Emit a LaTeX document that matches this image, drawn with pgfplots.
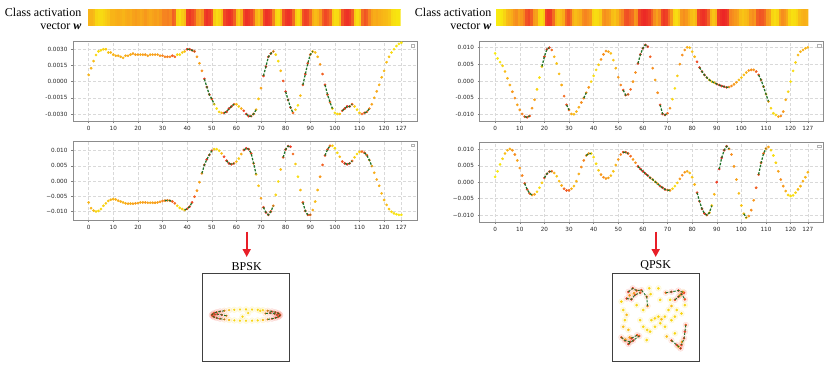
\documentclass[border=0pt]{standalone}
\usepackage{fontspec}
\setmainfont{Liberation Serif}
\newfontfamily\tickfont{DejaVu Sans}
\usepackage{pgfplots}
\usepackage{pgfplotstable}
\pgfplotsset{compat=1.18}
\usetikzlibrary{arrows.meta}
\definecolor{arrowred}{RGB}{232,30,40}
\definecolor{dkgreen}{RGB}{30,115,40}

\pgfplotstableread{
i w gI gQ I Q
0 .35 0 0 0.00062 -0.0071
1 .35 0 0 0.00124 -0.0090
2 .3 0 0 0.0019 -0.0098
3 .15 0 0 0.00247 -0.0101
4 .12 0 0 0.0028 -0.0099
5 .12 0 0 0.0029 -0.0093
6 .15 0 0 0.0030 -0.0082
7 .2 0 0 0.0030 -0.0074
8 .25 0 0 0.0027 -0.0066
9 .35 0 0 0.0027 -0.0062
10 .35 0 0 0.0025 -0.0060
11 .38 0 0 0.0024 -0.0061
12 .4 0 0 0.0024 -0.0065
13 .38 0 0 0.0023 -0.0068
14 .35 0 0 0.0022 -0.0071
15 .4 0 0 0.0024 -0.0074
16 .42 0 0 0.0024 -0.0075
17 .4 0 0 0.0025 -0.0075
18 .45 0 0 0.0026 -0.0075
19 .48 0 0 0.0025 -0.0074
20 .45 0 0 0.0025 -0.0073
21 .42 0 0 0.0025 -0.0071
22 .45 0 0 0.0025 -0.0071
23 .5 0 0 0.0025 -0.0071
24 .45 0 0 0.0024 -0.0072
25 .42 0 0 0.0025 -0.0072
26 .45 0 0 0.0025 -0.0072
27 .48 0 0 0.0025 -0.0072
28 .45 0 0 0.0025 -0.0071
29 .5 0 0 0.0024 -0.0069
30 .6 0 0 0.0024 -0.0066
31 .6 0 1 0.0023 -0.0065
32 .62 0 1 0.0023 -0.0064
33 .58 0 1 0.0023 -0.0065
34 .75 0 1 0.0024 -0.0068
35 .7 0 0 0.0023 -0.0074
36 .15 0 0 0.0025 -0.0082
37 .1 0 0 0.0025 -0.0089
38 .2 0 0 0.0027 -0.0093
39 .3 0 1 0.0028 -0.0096
40 .88 1 1 0.0030 -0.0092
41 .92 1 1 0.0030 -0.0085
42 .85 1 1 0.0029 -0.0071
43 .75 1 0 0.0028 -0.0052
44 .5 0 0 0.0023 -0.0032
45 .45 0 0 0.0017 -0.0004
46 .55 0 1 0.0010 0.0025
47 .9 1 1 0.00025 0.0053
48 .95 1 1 -0.0005 0.0071
49 .9 1 1 -0.0012 0.0086
50 .8 1 1 -0.0016 0.0100
51 .2 1 0 -0.0021 0.0105
52 .1 0 0 -0.0025 0.0105
53 .15 0 0 -0.0028 0.0100
54 .3 0 0 -0.0029 0.0091
55 .85 1 0 -0.0029 0.0080
56 .92 1 1 -0.0028 0.0067
57 .95 1 1 -0.0025 0.0058
58 .9 1 1 -0.0023 0.0055
59 .75 1 1 -0.0021 0.0058
60 .3 0 0 -0.0021 0.0064
61 .2 0 0 -0.0023 0.0074
62 .4 0 0 -0.0025 0.0089
63 .85 0 1 -0.0027 0.0102
64 .95 1 1 -0.0030 0.0108
65 .92 1 1 -0.0032 0.0105
66 .85 1 1 -0.0032 0.0091
67 .7 1 1 -0.0030 0.0058
68 .35 1 1 -0.0026 0.0022
69 .25 0 0 -0.0016 -0.0016
70 .45 0 0 -0.0006 -0.0057
71 .85 1 1 0.00053 -0.0087
72 .95 1 1 0.0014 -0.0104
73 .92 1 1 0.0023 -0.0112
74 .85 1 1 0.0026 -0.0101
75 .6 1 1 0.0028 -0.0082
76 .15 0 0 0.0025 -0.0046
77 .1 0 0 0.0019 -0.0002
78 .3 0 0 0.0010 0.0038
79 .8 0 1 0.00006 0.0078
80 .92 1 1 -0.00093 0.0104
81 .95 1 1 -0.0017 0.0115
82 .9 1 1 -0.0024 0.0113
83 .7 1 0 -0.0029 0.0089
84 .2 0 0 -0.0026 0.0056
85 .1 0 0 -0.0022 0.0014
86 .3 0 0 -0.0013 -0.0030
87 .8 1 1 -0.0003 -0.0071
88 .88 1 1 0.0007 -0.0099
89 .85 1 1 0.0017 -0.0112
90 .7 1 1 0.0025 -0.0112
91 .4 1 0 0.0028 -0.0096
92 .3 0 0 0.0027 -0.0068
93 .35 0 0 0.0023 -0.0030
94 .5 0 0 0.0016 0.0014
95 .75 0 0 0.0007 0.0053
96 .85 1 1 -0.0003 0.0084
97 .8 1 1 -0.0012 0.0104
98 .7 1 1 -0.0019 0.0116
99 .2 1 0 -0.0025 0.0116
100 .1 0 0 -0.0029 0.0108
101 .12 0 0 -0.0030 0.0093
102 .3 0 0 -0.0030 0.0080
103 .8 1 0 -0.0027 0.0064
104 .92 1 1 -0.0025 0.0058
105 .95 1 1 -0.0023 0.0055
106 .9 1 1 -0.0023 0.0058
107 .75 1 1 -0.0021 0.0066
108 .2 0 0 -0.0023 0.0078
109 .1 0 0 -0.0026 0.0089
110 .2 0 0 -0.0029 0.0096
111 .7 0 0 -0.0030 0.0097
112 .8 1 1 -0.0029 0.0093
113 .75 1 1 -0.0028 0.0085
114 .6 1 1 -0.0025 0.0069
115 .45 0 1 -0.0021 0.0049
116 .4 0 0 -0.0015 0.0027
117 .42 0 0 -0.0009 0.0005
118 .38 0 0 -0.0003 -0.0016
119 .35 0 0 0.0004 -0.0041
120 .32 0 0 0.0010 -0.0063
121 .3 0 0 0.0018 -0.0079
122 .25 0 0 0.0023 -0.0093
123 .12 0 0 0.0027 -0.0102
124 .08 0 0 0.0030 -0.0107
125 .05 0 0 0.0033 -0.0110
126 .05 0 0 0.0035 -0.0112
127 .05 0 0 0.0036 -0.0112
}\bpsk

\pgfplotstableread{
i w gI gQ I Q
0 .02 0 0 0.0082 0.0016
1 .03 0 0 0.0067 0.0033
2 .05 0 0 0.0056 0.0054
3 .15 0 0 0.0045 0.0071
4 .3 0 0 0.0028 0.0087
5 .35 0 0 0.0008 0.0097
6 .4 0 0 -0.0012 0.0101
7 .5 0 0 -0.0032 0.0097
8 .55 0 0 -0.0051 0.0084
9 .45 0 0 -0.0071 0.0066
10 .5 0 0 -0.0086 0.0043
11 .6 0 0 -0.0098 0.0020
12 .8 1 1 -0.0106 -0.0004
13 .85 1 1 -0.0108 -0.0022
14 .75 1 1 -0.0104 -0.0034
15 .5 0 1 -0.0081 -0.0039
16 .45 0 0 -0.0056 -0.0037
17 .15 0 0 -0.0025 -0.0029
18 .1 0 0 0.0010 -0.0017
19 .2 1 0 0.0043 -0.0002
20 .85 1 1 0.0072 0.0013
21 .92 1 1 0.0094 0.0025
22 .9 1 1 0.0099 0.0032
23 .7 0 1 0.0092 0.0033
24 .35 0 0 0.0072 0.0028
25 .25 0 0 0.0052 0.0018
26 .3 0 0 0.0021 0.0003
27 .4 0 0 -0.0012 -0.0010
28 .7 0 0 -0.0045 -0.0020
29 .8 1 0 -0.0071 -0.0025
30 .7 1 0 -0.0086 -0.0025
31 .4 0 0 -0.0098 -0.0020
32 .3 0 0 -0.0099 -0.0012
33 .35 0 0 -0.0091 0.0003
34 .4 0 0 -0.0078 0.0025
35 .55 0 0 -0.0064 0.0046
36 .6 1 0 -0.0051 0.0066
37 .55 1 1 -0.0035 0.0081
38 .5 0 1 -0.0019 0.0087
39 .15 0 1 -0.0002 0.0087
40 .1 0 0 0.0015 0.0076
41 .12 0 0 0.0033 0.0056
42 .2 0 0 0.0048 0.0036
43 .5 0 0 0.0064 0.0023
44 .55 0 0 0.0079 0.0015
45 .5 0 0 0.0089 0.0011
46 .45 0 0 0.0087 0.0013
47 .3 0 0 0.0082 0.0020
48 .25 0 0 0.0062 0.0033
49 .35 0 0 0.0038 0.0052
50 .5 0 0 0.0011 0.0069
51 .6 0 0 -0.0012 0.0084
52 .8 1 1 -0.0027 0.0091
53 .82 1 1 -0.0042 0.0091
54 .75 1 1 -0.0040 0.0087
55 .7 0 0 -0.0025 0.0079
56 .5 0 0 -0.0002 0.0069
57 .55 0 0 0.0025 0.0059
58 .88 1 1 0.0052 0.0048
59 .95 1 1 0.0079 0.0040
60 .98 1 1 0.0097 0.0033
61 .95 1 1 0.0107 0.0026
62 .9 1 1 0.0102 0.0020
63 .75 0 1 0.0072 0.0013
64 .55 0 1 0.0038 0.0008
65 .45 0 1 0.0003 0.0001
66 .55 0 1 -0.0035 -0.0005
67 .85 1 1 -0.0071 -0.0012
68 .92 1 1 -0.0098 -0.0017
69 .88 1 1 -0.0101 -0.0022
70 .7 1 1 -0.0096 -0.0024
71 .5 0 1 -0.0081 -0.0025
72 .15 0 0 -0.0054 -0.0020
73 .1 0 0 -0.0022 -0.0012
74 .2 0 0 0.0015 -0.0002
75 .5 0 0 0.0050 0.0010
76 .55 0 0 0.0077 0.0021
77 .5 0 0 0.0092 0.0030
78 .4 0 0 0.0100 0.0033
79 .3 0 0 0.0099 0.0028
80 .25 0 0 0.0087 0.0015
81 .35 0 0 0.0072 -0.0007
82 .85 0 1 0.0057 -0.0032
83 .92 1 1 0.0040 -0.0058
84 .95 1 1 0.0028 -0.0081
85 .9 1 1 0.0018 -0.0095
86 .75 1 1 0.0010 -0.0100
87 .35 1 1 0.0003 -0.0093
88 .25 1 1 -0.0002 -0.0071
89 .35 1 0 -0.0005 -0.0037
90 .9 1 0 -0.0009 0.0000
91 .97 1 1 -0.0012 0.0040
92 1.0 1 1 -0.0015 0.0074
93 .97 1 1 -0.0017 0.0097
94 .9 1 1 -0.0019 0.0109
95 .6 1 1 -0.0018 0.0101
96 .55 0 0 -0.0015 0.0084
97 .5 0 0 -0.0010 0.0048
98 .45 0 0 -0.0004 0.0008
99 .3 0 0 0.0003 -0.0034
100 .25 0 0 0.0010 -0.0071
101 .3 0 1 0.0018 -0.0096
102 .35 0 1 0.0025 -0.0108
103 .5 0 0 0.0031 -0.0103
104 .55 0 0 0.0033 -0.0085
105 .5 0 0 0.0033 -0.0055
106 .75 0 0 0.0028 -0.0017
107 .8 1 1 0.0018 0.0023
108 .78 1 1 0.0003 0.0059
109 .7 1 1 -0.0017 0.0087
110 .5 1 1 -0.0039 0.0102
111 .45 1 0 -0.0061 0.0107
112 .15 0 0 -0.0081 0.0097
113 .1 0 0 -0.0096 0.0081
114 .15 0 0 -0.0101 0.0059
115 .45 0 0 -0.0106 0.0033
116 .55 0 0 -0.0104 0.0008
117 .5 0 0 -0.0091 -0.0012
118 .4 0 0 -0.0056 -0.0027
119 .15 0 0 -0.0032 -0.0039
120 .08 0 0 -0.0002 -0.0042
121 .1 0 0 0.0030 -0.0040
122 .15 0 0 0.0055 -0.0032
123 .3 0 0 0.0077 -0.0022
124 .35 0 0 0.0087 -0.0012
125 .38 0 0 0.0092 0.0003
126 .35 0 0 0.0097 0.0015
127 .35 0 0 0.0100 0.0030
}\qpsk

\pgfplotstableread{
u v w g
0.39 0.166 0.15 0
0.27 0.175 0.15 0
0.14 0.181 0.15 0
0.00 0.183 0.15 0
-0.14 0.181 0.15 0
-0.27 0.175 0.15 0
-0.39 0.166 0.3 0
-0.50 0.153 0.6 1
-0.60 0.137 0.9 1
-0.68 0.119 0.9 1
-0.74 0.099 0.9 1
-0.77 0.077 0.9 1
-0.79 0.055 0.9 1
-0.77 0.033 0.9 1
-0.74 0.011 0.9 1
-0.68 -0.009 0.9 1
-0.60 -0.027 0.9 1
-0.50 -0.043 0.6 1
-0.39 -0.056 0.3 0
-0.27 -0.065 0.15 0
-0.14 -0.071 0.15 0
0.00 -0.073 0.15 0
0.14 -0.071 0.15 0
0.27 -0.065 0.15 0
0.39 -0.056 0.3 0
0.50 -0.043 0.6 1
0.60 -0.027 0.9 1
0.68 -0.009 0.9 1
0.74 0.011 0.9 1
0.77 0.033 0.9 1
0.79 0.055 0.9 1
0.77 0.077 0.9 1
0.74 0.099 0.9 1
0.68 0.119 0.9 1
0.60 0.137 0.9 1
0.50 0.153 0.6 1
0.33 0.150 0.15 0
-0.45 0.040 0.6 1
-0.56 0.060 0.9 1
-0.66 0.075 0.9 1
-0.72 0.070 0.9 1
0.05 0.100 0.15 0
0.45 0.090 0.6 1
0.56 0.100 0.9 1
0.66 0.085 0.9 1
0.72 0.060 0.9 1
-0.08 0.020 0.15 0
}\bpskbox

\pgfplotstableread{
u v w g
-0.63 0.58 0.9 1
-0.53 0.66 0.9 1
-0.44 0.61 0.8 1
-0.33 0.62 0.8 1
-0.21 0.47 0.7 1
-0.19 0.26 0.6 1
-0.15 0.66 0.15 0
-0.67 0.43 0.9 1
-0.56 0.41 0.9 1
-0.48 0.51 0.9 1
-0.36 0.56 0.8 1
0.06 0.66 0.15 0
0.23 0.56 0.7 1
0.36 0.58 0.9 1
0.52 0.61 0.9 1
0.65 0.56 0.9 1
-0.12 0.53 0.15 0
0.44 0.40 0.8 1
0.52 0.47 0.9 1
0.59 0.53 0.9 1
0.67 0.41 0.8 1
-0.79 0.36 0.15 0
-0.79 -0.45 0.8 1
-0.71 -0.52 0.9 1
-0.59 -0.55 0.9 1
-0.75 0.17 0.15 0
-0.63 -0.60 0.9 1
-0.52 -0.52 0.9 1
-0.38 -0.42 0.8 1
-0.67 0.06 0.3 0
-0.56 -0.47 0.9 1
-0.43 -0.40 0.8 1
-0.71 -0.06 0.15 0
0.69 -0.17 0.8 1
0.67 -0.32 0.9 1
0.65 -0.47 0.9 1
0.59 -0.62 0.9 1
-0.75 -0.21 0.3 0
0.36 -0.52 0.8 1
0.48 -0.62 0.9 1
0.57 -0.70 0.9 1
-0.63 -0.28 0.3 0
-0.36 -0.06 0.15 0
-0.29 -0.21 0.15 0
-0.20 -0.28 0.15 0
-0.10 -0.06 0.15 0
-0.02 -0.02 0.15 0
0.06 0.02 0.15 0
0.13 -0.04 0.3 0
0.21 0.02 0.15 0
0.10 -0.13 0.15 0
-0.02 -0.21 0.15 0
-0.13 -0.32 0.15 0
0.21 -0.21 0.15 0
0.36 -0.06 0.15 0
0.29 0.17 0.15 0
0.36 0.26 0.3 0
0.48 0.17 0.15 0
0.44 0.02 0.15 0
0.59 0.09 0.15 0
0.67 0.28 0.15 0
0.33 0.40 0.15 0
-0.44 0.28 0.15 0
-0.29 0.17 0.15 0
0.10 0.40 0.15 0
0.25 -0.43 0.3 0
0.44 -0.36 0.15 0
-0.21 -0.51 0.15 0
-0.60 0.50 0.5 0
-0.50 0.55 0.5 0
0.55 0.50 0.5 0
0.62 0.58 0.5 0
-0.70 -0.50 0.5 0
-0.60 -0.45 0.5 0
0.60 -0.55 0.5 0
0.52 -0.66 0.5 0
}\qpskbox

\pgfplotstablevertcat{\heatL}{\bpsk}
\pgfplotstablevertcat{\heatL}{\bpsk}
\pgfplotstablevertcat{\heatR}{\qpsk}
\pgfplotstablevertcat{\heatR}{\qpsk}

\pgfplotsset{
  colormap={heat}{rgb255=(248,238,14) rgb255=(248,204,20) rgb255=(248,172,24) rgb255=(246,132,32) rgb255=(241,84,36) rgb255=(236,38,38)},
  sig/.style={scale only axis, width=344pt, anchor=south west,
    xmin=-6.35, xmax=133.35, scaled y ticks=false, scaled x ticks=false,
    xtick={0,10,20,30,40,50,60,70,80,90,100,110,120,127},
    xticklabels={0,10,20,30,40,50,60,70,80,90,100,110,120,127},
    tick label style={font=\tickfont\fontsize{5.7}{6}\selectfont, text=black!85},
    tick align=outside, tick pos=left, major tick length=2pt,
    tick style={black!50, line width=0.5pt},
    axis line style={black!45, line width=0.6pt},
    grid=major, grid style={densely dashed, black!15, line width=0.4pt},
    colormap name=heat, point meta min=0, point meta max=1},
  over/.style={scale only axis, width=344pt, anchor=south west,
    xmin=-6.35, xmax=133.35, hide axis, grid=none},
  heatbar/.style={scale only axis, anchor=south west, height=15.7pt,
    xmin=0, xmax=127, ymin=0, ymax=1, hide axis,
    colormap name=heat, point meta min=0, point meta max=1},
  cbox/.style={scale only axis, anchor=south west, width=86.6pt, height=88.4pt,
    xmin=-1, xmax=1, ymin=-1, ymax=1, ticks=none,
    axis line style={black!75, line width=0.9pt},
    colormap name=heat, point meta min=0, point meta max=1},
  cover/.style={scale only axis, anchor=south west, width=86.6pt, height=88.4pt,
    xmin=-1, xmax=1, ymin=-1, ymax=1, hide axis},
  sdots/.style={scatter, only marks, mark=*, mark size=1.15pt, point meta=explicit,
    scatter/use mapped color={draw=mapped color, fill=mapped color}},
  shalo/.style={scatter, only marks, mark=*, mark size=3pt, point meta=explicit,
    scatter/use mapped color={draw=mapped color, fill=mapped color, opacity=0.10}},
  gline/.style={no marks, draw=dkgreen, line width=1.25pt,
    dash pattern=on 2.4pt off 1.4pt, unbounded coords=jump},
}

\begin{document}
\begin{tikzpicture}
\useasboundingbox (0,0) rectangle (830pt,-367pt);

% ---------- titles ----------
\node[anchor=east, align=right, inner sep=0pt, font=\fontsize{12}{13}\selectfont]
  at (81.5pt,-18.5pt) {Class activation\\vector \textbf{\textit{w}}};
\node[anchor=east, align=right, inner sep=0pt, font=\fontsize{12}{13}\selectfont]
  at (491.5pt,-18.5pt) {Class activation\\vector \textbf{\textit{w}}};

% ---------- heat bars ----------
\begin{axis}[heatbar, at={(88pt,-25pt)}, width=312.7pt]
\addplot[surf, shader=flat corner, mesh/cols=128, point meta=explicit]
  table[x=i, y expr={\coordindex<128 ? 0 : 1}, meta=w] {\heatL};
\end{axis}
\begin{axis}[heatbar, at={(496pt,-25pt)}, width=312.3pt]
\addplot[surf, shader=flat corner, mesh/cols=128, point meta=explicit]
  table[x=i, y expr={\coordindex<128 ? 0 : 1}, meta=w] {\heatR};
\end{axis}

% ---------- BPSK I ----------
\begin{axis}[sig, at={(73pt,-121pt)}, height=79.3pt,
  ymin=-0.00365, ymax=0.0037,
  ytick={-0.003,-0.0015,0,0.0015,0.003},
  yticklabels={-0.0030,-0.0015,0.0000,0.0015,0.0030}]
\addplot[sdots] table[x=i, y=I, meta=w] {\bpsk};
\draw[black!30, line width=0.4pt] (rel axis cs:0.983,0.93) rectangle (rel axis cs:0.993,0.965);
\end{axis}
\begin{axis}[over, at={(73pt,-121pt)}, height=79.3pt, ymin=-0.00365, ymax=0.0037]
\addplot[gline] table[x=i, y expr={\thisrow{gI}>0 ? \thisrow{I} : nan}] {\bpsk};
\end{axis}

% ---------- BPSK Q ----------
\begin{axis}[sig, at={(73pt,-220pt)}, height=79pt,
  ymin=-0.0129, ymax=0.0132,
  ytick={-0.01,-0.005,0,0.005,0.01},
  yticklabels={−0.010,−0.005,0.000,0.005,0.010}]
\addplot[sdots] table[x=i, y=Q, meta=w] {\bpsk};
\draw[black!30, line width=0.4pt] (rel axis cs:0.983,0.93) rectangle (rel axis cs:0.993,0.965);
\end{axis}
\begin{axis}[over, at={(73pt,-220pt)}, height=79pt, ymin=-0.0129, ymax=0.0132]
\addplot[gline] table[x=i, y expr={\thisrow{gQ}>0 ? \thisrow{Q} : nan}] {\bpsk};
\end{axis}

% ---------- QPSK I ----------
\begin{axis}[sig, at={(479.5pt,-121pt)}, height=79.3pt,
  ymin=-0.0119, ymax=0.01167,
  ytick={-0.01,-0.005,0,0.005,0.01},
  yticklabels={-0.010,-0.005,0.000,0.005,0.010}]
\addplot[sdots] table[x=i, y=I, meta=w] {\qpsk};
\draw[black!30, line width=0.4pt] (rel axis cs:0.983,0.93) rectangle (rel axis cs:0.993,0.965);
\end{axis}
\begin{axis}[over, at={(479.5pt,-121pt)}, height=79.3pt, ymin=-0.0119, ymax=0.01167]
\addplot[gline] table[x=i, y expr={\thisrow{gI}>0 ? \thisrow{I} : nan}] {\qpsk};
\end{axis}

% ---------- QPSK Q ----------
\begin{axis}[sig, at={(479.5pt,-222pt)}, height=80pt,
  ymin=-0.0121, ymax=0.0122,
  ytick={-0.01,-0.005,0,0.005,0.01},
  yticklabels={−0.010,−0.005,0.000,0.005,0.010}]
\addplot[sdots] table[x=i, y=Q, meta=w] {\qpsk};
\draw[black!30, line width=0.4pt] (rel axis cs:0.983,0.93) rectangle (rel axis cs:0.993,0.965);
\end{axis}
\begin{axis}[over, at={(479.5pt,-222pt)}, height=80pt, ymin=-0.0121, ymax=0.0122]
\addplot[gline] table[x=i, y expr={\thisrow{gQ}>0 ? \thisrow{Q} : nan}] {\qpsk};
\end{axis}

% ---------- arrows and labels ----------
\draw[arrowred, line width=1.8pt, -{Triangle[width=8pt,length=8pt]}] (246.7pt,-231.7pt) -- (246.7pt,-257pt);
\draw[arrowred, line width=1.8pt, -{Triangle[width=8pt,length=8pt]}] (655.7pt,-231.7pt) -- (655.7pt,-257pt);
\node[font=\fontsize{12}{13}\selectfont, inner sep=0pt] at (246.7pt,-266.5pt) {BPSK};
\node[font=\fontsize{12}{13}\selectfont, inner sep=0pt] at (655.7pt,-265.5pt) {QPSK};

% ---------- constellation boxes ----------
\begin{axis}[cbox, at={(202.7pt,-361.7pt)}]
\addplot[shalo] table[x=u, y=v, meta=w] {\bpskbox};
\addplot[sdots, mark size=0.9pt] table[x=u, y=v, meta=w] {\bpskbox};
\end{axis}
\begin{axis}[cover, at={(202.7pt,-361.7pt)}]
\addplot[gline, line width=0.9pt] table[x=u, y expr={\thisrow{g}>0 ? \thisrow{v} : nan}] {\bpskbox};
\end{axis}
\begin{axis}[cbox, at={(612.3pt,-361.7pt)}, width=87pt]
\addplot[shalo] table[x=u, y=v, meta=w] {\qpskbox};
\addplot[sdots, mark size=1.1pt] table[x=u, y=v, meta=w] {\qpskbox};
\end{axis}
\begin{axis}[cover, at={(612.3pt,-361.7pt)}, width=87pt]
\addplot[gline, line width=0.9pt] table[x=u, y expr={\thisrow{g}>0 ? \thisrow{v} : nan}] {\qpskbox};
\end{axis}
\end{tikzpicture}
\end{document}
